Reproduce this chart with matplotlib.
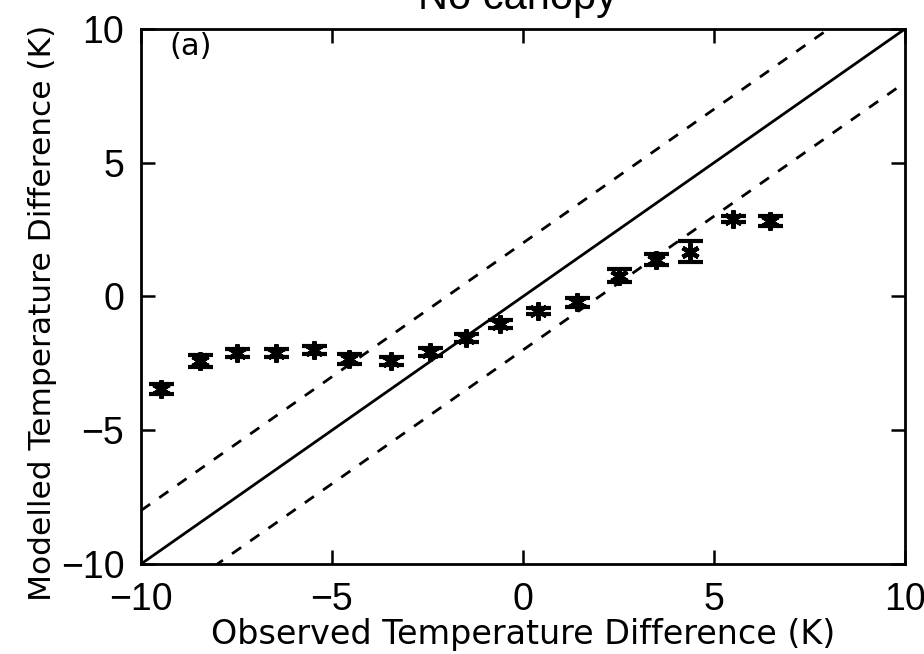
import numpy as np
import matplotlib
matplotlib.use("Agg")
from matplotlib import pyplot as plt

# Binned observed vs modelled temperature differences (K)
obs_diff = [-9.48, -8.46, -7.49, -6.47, -5.47, -4.55, -3.45, -2.43, -1.49,
            -0.60, 0.39, 1.41, 2.51, 3.48, 4.37, 5.50, 6.47]
mod_diff = [-3.45, -2.42, -2.10, -2.10, -2.00, -2.33, -2.42, -2.08, -1.55,
            -1.02, -0.55, -0.22, 0.78, 1.38, 1.68, 2.90, 2.82]
mod_err = [0.18, 0.22, 0.15, 0.15, 0.15, 0.18, 0.15, 0.15, 0.15,
           0.15, 0.12, 0.18, 0.25, 0.22, 0.40, 0.12, 0.20]
band = 2.0
ticks = [-10, -5, 0, 5, 10]
tick_labels = ["\u221210", "\u22125", "0", "5", "10"]

plt.rcParams["font.family"] = ["DejaVu Sans"]

fig = plt.figure(figsize=(9.24, 6.54), dpi=100)
ax = fig.add_axes([0.1526, 0.1376, 0.8268, 0.8181])

line_x = np.array([-10.0, 10.0])
ax.plot(line_x, line_x, color="black", lw=2.0)
ax.plot(line_x, line_x + band, color="black", lw=2.0, ls=(0, (4, 4)))
ax.plot(line_x, line_x - band, color="black", lw=2.0, ls=(0, (4, 4)))

ax.errorbar(obs_diff, mod_diff, yerr=mod_err, fmt="none", ecolor="black",
            elinewidth=2.5, capsize=9, capthick=3)
ax.plot(obs_diff, mod_diff, ls="none", marker=(6, 2, 0), ms=13, mew=3.2,
        color="black")

ax.set_xlim(-10, 10)
ax.set_ylim(-10, 10)
ax.set_xticks(ticks)
ax.set_yticks(ticks)
ax.set_xticklabels(tick_labels, family="Liberation Sans", fontsize=27)
ax.set_yticklabels(tick_labels, family="Liberation Sans", fontsize=27)
ax.tick_params(direction="in", length=10, width=1.8, top=True, right=True)
ax.tick_params(axis="x", pad=13)
ax.tick_params(axis="y", pad=12)
for sp in ax.spines.values():
    sp.set_linewidth(2.0)

ax.set_xlabel("Observed Temperature Difference (K)", fontsize=24, labelpad=0)
ax.set_ylabel("Modelled Temperature Difference (K)", fontsize=22.5)
ax.yaxis.set_label_coords(-0.11, 0.47)
ax.text(-9.25, 9.35, "(a)", fontsize=22, va="center", ha="left")

fig.text(0.56, 1 - 9 / 654, "No canopy", fontsize=30, ha="center",
         va="baseline", family="Liberation Sans")

fig.savefig("out.png", dpi=100)
